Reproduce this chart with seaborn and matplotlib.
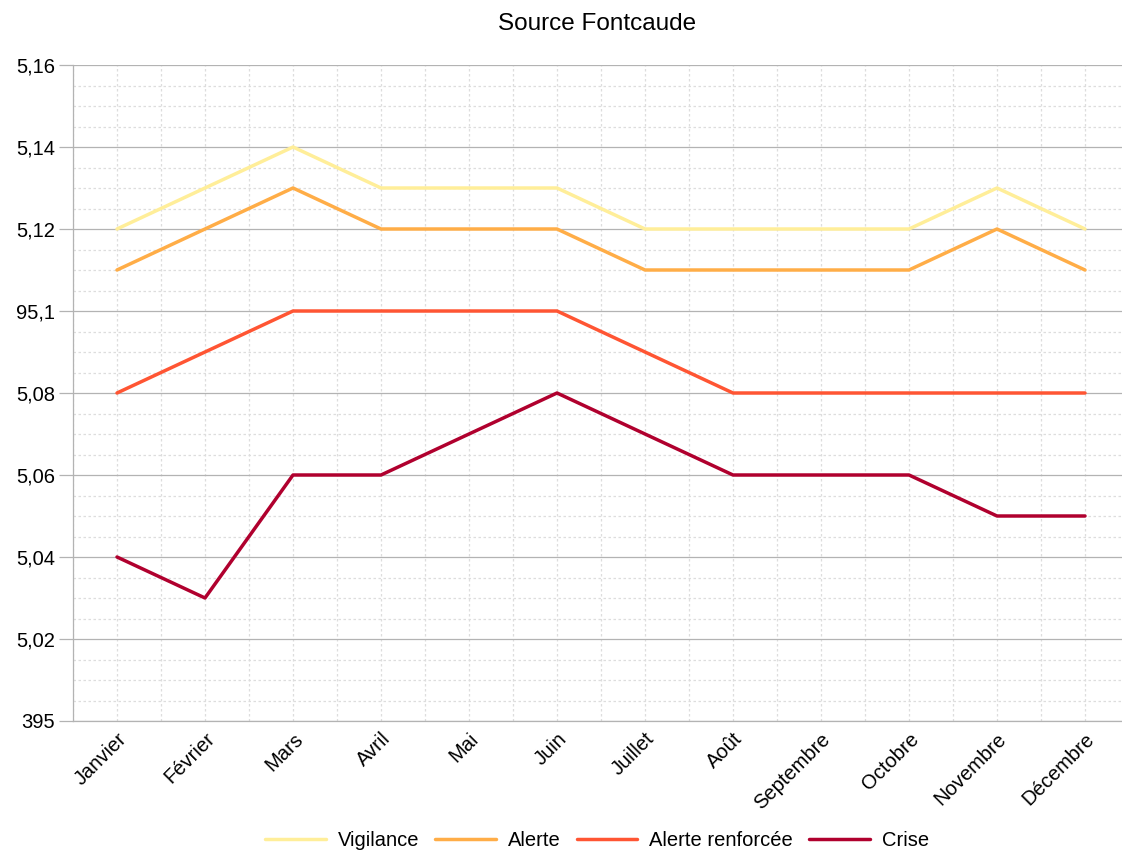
import seaborn as sns
import matplotlib.pyplot as plt
import pandas as pd
from matplotlib.ticker import MultipleLocator, FixedLocator

# données
mois = ["Janvier", "Février", "Mars", "Avril", "Mai", "Juin", "Juillet",
        "Août", "Septembre", "Octobre", "Novembre", "Décembre"]
vigilance = [5.12, 5.13, 5.14, 5.13, 5.13, 5.13, 5.12, 5.12, 5.12, 5.12, 5.13, 5.12]
alerte = [5.11, 5.12, 5.13, 5.12, 5.12, 5.12, 5.11, 5.11, 5.11, 5.11, 5.12, 5.11]
alerte_renforcee = [5.08, 5.09, 5.10, 5.10, 5.10, 5.10, 5.09, 5.08, 5.08, 5.08, 5.08, 5.08]
crise = [5.04, 5.03, 5.06, 5.06, 5.07, 5.08, 5.07, 5.06, 5.06, 5.06, 5.05, 5.05]
y_ticks = [5.00, 5.02, 5.04, 5.06, 5.08, 5.10, 5.12, 5.14, 5.16]
y_labels = ["395", "5,02", "5,04", "5,06", "5,08", "95,1", "5,12", "5,14", "5,16"]

series = {"Vigilance": vigilance, "Alerte": alerte,
          "Alerte renforcée": alerte_renforcee, "Crise": crise}
couleurs = ["#ffee99", "#ffad47", "#ff5533", "#b0002e"]

df = pd.DataFrame(
    [(i, m, nom, v) for nom, vals in series.items() for i, (m, v) in enumerate(zip(mois, vals))],
    columns=["pos", "mois", "niveau", "valeur"])

sns.set_theme(style="white")
plt.rcParams['font.family'] = ['Liberation Sans', 'DejaVu Sans']
plt.rcParams['text.color'] = "black"
plt.rcParams['xtick.color'] = "black"
plt.rcParams['ytick.color'] = "black"

fig = plt.figure(figsize=(11.22, 8.5), dpi=100)
ax = fig.add_axes([73 / 1122, 1 - 721 / 850, (1129 - 73) / 1122, (721 - 65) / 850])

sns.lineplot(data=df, x="pos", y="valeur", hue="niveau", palette=couleurs,
             linewidth=2.5, ax=ax, legend=True)

ax.set_xlim(-0.5, 11.5)
ax.set_ylim(5.00, 5.16)

ax.yaxis.set_major_locator(FixedLocator(y_ticks))
ax.set_yticklabels(y_labels, fontsize=14.5)
ax.yaxis.set_minor_locator(MultipleLocator(0.005))
ax.set_xticks(range(len(mois)))
ax.set_xticklabels(mois, rotation=45, ha="right", rotation_mode="anchor", fontsize=14.5)
ax.xaxis.set_minor_locator(FixedLocator([i + 0.5 for i in range(-1, 12)]))

ax.grid(which="major", axis="y", color="#b3b3b3", linewidth=0.9, linestyle="-")
ax.grid(which="minor", axis="y", color="#dddddd", linewidth=0.9, linestyle=(0, (2, 2)))
ax.grid(which="major", axis="x", color="#dddddd", linewidth=0.9, linestyle=(0, (2, 2)))
ax.grid(which="minor", axis="x", color="#dddddd", linewidth=0.9, linestyle=(0, (2, 2)))
ax.set_axisbelow(True)

ax.tick_params(axis="y", which="major", length=10, color="#b3b3b3", width=0.9, left=True, pad=3)
ax.tick_params(axis="y", which="minor", length=0)
ax.tick_params(axis="x", which="both", length=0, pad=6)

for s in ["top", "right"]:
    ax.spines[s].set_visible(False)
for s in ["left", "bottom"]:
    ax.spines[s].set_color("#b3b3b3")
    ax.spines[s].set_linewidth(0.9)

ax.set_xlabel("")
ax.set_ylabel("")
fig.text(597 / 1122, 1 - 24 / 850, "Source Fontcaude", ha="center", va="center", fontsize=17.5)

ax.legend(loc="center", bbox_to_anchor=(597 / 1122, 1 - 841 / 850),
          bbox_transform=fig.transFigure, ncol=4, frameon=False, fontsize=14.5,
          handlelength=3.0, columnspacing=0.8, handletextpad=0.6)

fig.savefig("out.png", dpi=100)
